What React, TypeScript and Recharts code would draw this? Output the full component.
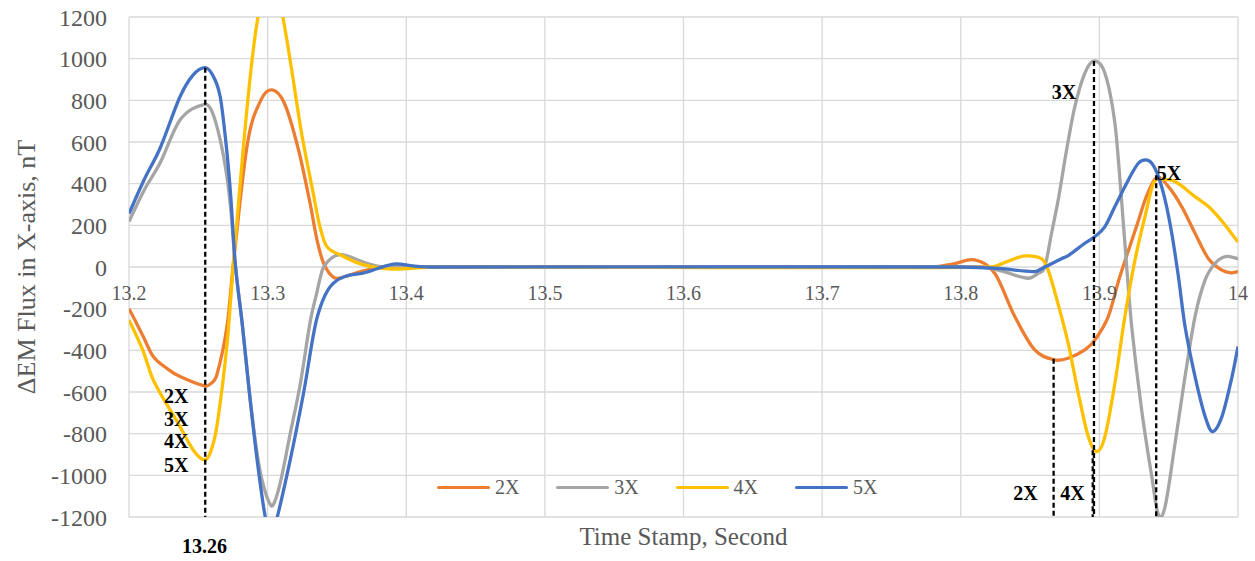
import { LineChart, Line, XAxis, YAxis, CartesianGrid, Legend, ReferenceLine, ReferenceDot, Label } from 'recharts'

// time stamp (s), flux (nT) pairs for each excitation level
const flux2x: [number, number][] = [
  [13.2, -200], [13.21, -330], [13.2175, -430], [13.228, -490], [13.2368, -526], [13.2545, -571],
  [13.259, -560], [13.2635, -515], [13.2708, -280], [13.2755, 30], [13.2855, 595], [13.2952, 802],
  [13.3032, 850], [13.312, 787], [13.322, 570], [13.3308, 300], [13.3356, 130], [13.3404, 18],
  [13.3476, -50], [13.3548, -48], [13.367, -22], [13.38, -3], [13.4, 0], [13.78, 0], [13.795, 15],
  [13.81, 34], [13.8245, -30], [13.839, -238], [13.8534, -398], [13.8679, -446], [13.8775, -438],
  [13.8895, -398], [13.8968, -350], [13.9064, -238], [13.9137, -70], [13.917, 0], [13.922, 100],
  [13.928, 220], [13.934, 340], [13.9413, 430], [13.9498, 386], [13.9594, 290], [13.969, 162],
  [13.9787, 40], [13.9884, -15], [13.995, -28], [14.0, -22],
]

const flux3x: [number, number][] = [
  [13.2, 218], [13.211, 370], [13.2224, 499], [13.2368, 706], [13.2545, 781], [13.26, 745],
  [13.2658, 610], [13.2705, 440], [13.2735, 270], [13.2766, 19], [13.2819, -286], [13.2869, -606],
  [13.2925, -900], [13.297, -1050], [13.3026, -1146], [13.306, -1110], [13.31, -1010], [13.3163, -800],
  [13.3236, -560], [13.3308, -260], [13.3356, -120], [13.338, -50], [13.3404, 0], [13.3476, 50],
  [13.3546, 58], [13.3717, 18], [13.385, 0], [13.815, 0], [13.83, -20], [13.8486, -54], [13.856, -30],
  [13.8606, 0], [13.8655, 162], [13.8703, 322], [13.8763, 560], [13.8823, 770], [13.8895, 930],
  [13.8963, 989], [13.904, 930], [13.9112, 690], [13.916, 322], [13.9197, 0], [13.9233, -286],
  [13.9305, -686], [13.9378, -1006], [13.9426, -1190], [13.9474, -1150], [13.9546, -846],
  [13.9618, -526], [13.969, -238], [13.9763, -62], [13.9835, 18], [13.9908, 50], [14.0, 40],
]

const flux4x: [number, number][] = [
  [13.2, -254], [13.21, -400], [13.2175, -542], [13.2368, -766], [13.2463, -878], [13.2545, -926],
  [13.259, -885], [13.2635, -760], [13.2708, -365], [13.2755, 34], [13.2855, 787], [13.2927, 1186],
  [13.303, 1450], [13.311, 1200], [13.317, 961], [13.3245, 642], [13.333, 350], [13.3375, 200],
  [13.3425, 100], [13.3526, 58], [13.367, 15], [13.385, -8], [13.4, -8], [13.42, 0], [13.822, 0],
  [13.835, 30], [13.8462, 53], [13.8582, 40], [13.863, -14], [13.8703, -180], [13.8775, -366],
  [13.8848, -606], [13.892, -814], [13.898, -886], [13.904, -814], [13.9112, -558], [13.9184, -238],
  [13.9257, 34], [13.9329, 242], [13.939, 402], [13.945, 420], [13.9546, 410], [13.969, 338],
  [13.9787, 290], [13.9884, 220], [14.0, 120],
]

const flux5x: [number, number][] = [
  [13.2, 257], [13.211, 420], [13.2224, 570], [13.2368, 817], [13.246, 920], [13.2545, 957],
  [13.26, 925], [13.2658, 817], [13.2705, 560], [13.2735, 330], [13.2766, 19], [13.2819, -286],
  [13.2869, -606], [13.2925, -930], [13.2983, -1200], [13.3025, -1290], [13.3066, -1210],
  [13.3163, -926], [13.3259, -606], [13.3356, -245], [13.3474, -78], [13.372, -24], [13.3908, 14],
  [13.405, 5], [13.42, 0], [13.8, 0], [13.83, -8], [13.8534, -22], [13.8606, 0], [13.8727, 40],
  [13.8775, 55], [13.8895, 114], [13.8968, 146], [13.904, 194], [13.9112, 290], [13.9209, 418],
  [13.9281, 498], [13.9334, 514], [13.9378, 498], [13.9426, 434], [13.9474, 322], [13.9522, 162],
  [13.957, -46], [13.9618, -286], [13.969, -526], [13.9763, -718], [13.9816, -790], [13.9884, -718],
  [13.9957, -526], [14.0, -382],
]

const xTicks = [13.2, 13.3, 13.4, 13.5, 13.6, 13.7, 13.8, 13.9, 14]
const yTicks = [-1200, -1000, -800, -600, -400, -200, 0, 200, 400, 600, 800, 1000, 1200]

// dashed guides: time, value where the guide starts (all run down to the axis floor)
const guides = [
  { t: 13.255, from: 957 },
  { t: 13.8961, from: 989 },
  { t: 13.941, from: 440 },
  { t: 13.867, from: -440 },
  { t: 13.8952, from: -880 },
]

// bold callouts placed in data units
const callouts = [
  { text: '2X', t: 13.234, v: -653, anchor: 'middle' },
  { text: '3X', t: 13.234, v: -763, anchor: 'middle' },
  { text: '4X', t: 13.234, v: -869, anchor: 'middle' },
  { text: '5X', t: 13.234, v: -984, anchor: 'middle' },
  { text: '3X', t: 13.8745, v: 806, anchor: 'middle' },
  { text: '5X', t: 13.9413, v: 418, anchor: 'start' },
  { text: '2X', t: 13.8467, v: -1118, anchor: 'middle' },
  { text: '4X', t: 13.8806, v: -1118, anchor: 'middle' },
  { text: '13.26', t: 13.2545, v: -1373, anchor: 'middle' },
]

const series = [
  { name: '2X', color: '#ED7D31', points: flux2x },
  { name: '3X', color: '#A5A5A5', points: flux3x },
  { name: '4X', color: '#FFC000', points: flux4x },
  { name: '5X', color: '#4472C4', points: flux5x },
]

const FONT = '"Liberation Serif", "Times New Roman", serif'
const AXIS_GREY = '#595959'

// cubic Hermite through the points, tangents from neighbouring differences
// (no monotone clamp, so peaks round off the way a smoothed spreadsheet line does)
const smoothX = (context: any) => {
  let xs: number[] = []
  let ys: number[] = []
  return {
    areaStart() {},
    areaEnd() {},
    lineStart() {
      xs = []
      ys = []
    },
    point(x: number, y: number) {
      xs.push(+x)
      ys.push(+y)
    },
    lineEnd() {
      const n = xs.length
      if (!n) return
      context.moveTo(xs[0], ys[0])
      if (n === 1) return
      const m = xs.map((_, i) => {
        const a = Math.max(0, i - 1)
        const b = Math.min(n - 1, i + 1)
        return (ys[b] - ys[a]) / (xs[b] - xs[a])
      })
      for (let i = 0; i < n - 1; i++) {
        const h = (xs[i + 1] - xs[i]) / 3
        context.bezierCurveTo(
          xs[i] + h, ys[i] + m[i] * h,
          xs[i + 1] - h, ys[i + 1] - m[i + 1] * h,
          xs[i + 1], ys[i + 1],
        )
      }
    },
  }
}

const XTick = ({ x, payload }: any) => (
  <text x={x} y={300} textAnchor="middle" fill={AXIS_GREY} fontSize={20} fontFamily={FONT}>
    {payload.value}
  </text>
)

const YTitle = ({ viewBox }: any) => {
  const cy = viewBox.y + viewBox.height / 2
  return (
    <text
      x={26}
      y={cy}
      transform={`rotate(-90, 26, ${cy})`}
      textAnchor="middle"
      dominantBaseline="central"
      fill={AXIS_GREY}
      fontSize={26}
      fontFamily={FONT}
    >
      ΔEM Flux in X-axis, nT
    </text>
  )
}

const LegendRow = ({ payload }: any) => (
  <div style={{ display: 'flex', fontFamily: FONT, fontSize: 20, color: AXIS_GREY, lineHeight: '26px' }}>
    {(payload || []).map((p: any) => (
      <div key={p.value} style={{ display: 'flex', alignItems: 'center', width: 119.3 }}>
        <span style={{ display: 'inline-block', width: 53, height: 3, borderRadius: 2, background: p.color, marginRight: 5 }} />
        <span>{p.value}</span>
      </div>
    ))}
  </div>
)

const calloutShape = (text: string, anchor: string) => (props: any) => (
  <text x={props.cx} y={props.cy} textAnchor={anchor} fontWeight="bold" fontSize={20} fontFamily={FONT} fill="#000">
    {text}
  </text>
)

export default function App() {
  return (
    <div style={{ position: 'absolute', left: 0, top: 0, fontFamily: FONT, background: '#fff' }}>
      <LineChart width={1255} height={561} margin={{ top: 17, right: 17, bottom: 0, left: 0 }}>
        <CartesianGrid stroke="#d9d9d9" strokeWidth={1.3} />
        <XAxis
          type="number"
          dataKey="t"
          domain={[13.2, 14]}
          ticks={xTicks}
          allowDataOverflow
          axisLine={false}
          tickLine={false}
          tickSize={0}
          height={44}
          tick={<XTick />}
          interval={0}
        >
          <Label
            value="Time Stamp, Second"
            position="insideBottom"
            offset={16}
            fill={AXIS_GREY}
            fontSize={25}
            fontFamily={FONT}
          />
        </XAxis>
        <YAxis
          type="number"
          domain={[-1200, 1200]}
          ticks={yTicks}
          allowDataOverflow
          axisLine={false}
          tickLine={false}
          tickSize={0}
          tickMargin={22}
          width={129}
          interval={0}
          tick={{ fill: AXIS_GREY, fontSize: 24, fontFamily: FONT }}
        >
          <Label content={<YTitle />} />
        </YAxis>
        <Legend
          layout="horizontal"
          verticalAlign="middle"
          align="center"
          width={480}
          wrapperStyle={{ left: 437, top: 474 }}
          content={<LegendRow />}
        />
        {series.map((s) => (
          <Line
            key={s.name}
            name={s.name}
            data={s.points.map(([t, v]) => ({ t, v }))}
            dataKey="v"
            type={smoothX as any}
            stroke={s.color}
            strokeWidth={3.3}
            dot={false}
            activeDot={false}
            isAnimationActive={false}
          />
        ))}
        {guides.map((g, i) => (
          <ReferenceLine
            key={`guide-${i}`}
            segment={[{ x: g.t, y: g.from }, { x: g.t, y: -1200 }]}
            stroke="#000"
            strokeWidth={2.3}
            strokeDasharray="5 3"
          />
        ))}
        {callouts.map((c, i) => (
          <ReferenceDot
            key={`callout-${i}`}
            x={c.t}
            y={c.v}
            r={0}
            ifOverflow="visible"
            shape={calloutShape(c.text, c.anchor)}
          />
        ))}
      </LineChart>
    </div>
  )
}
